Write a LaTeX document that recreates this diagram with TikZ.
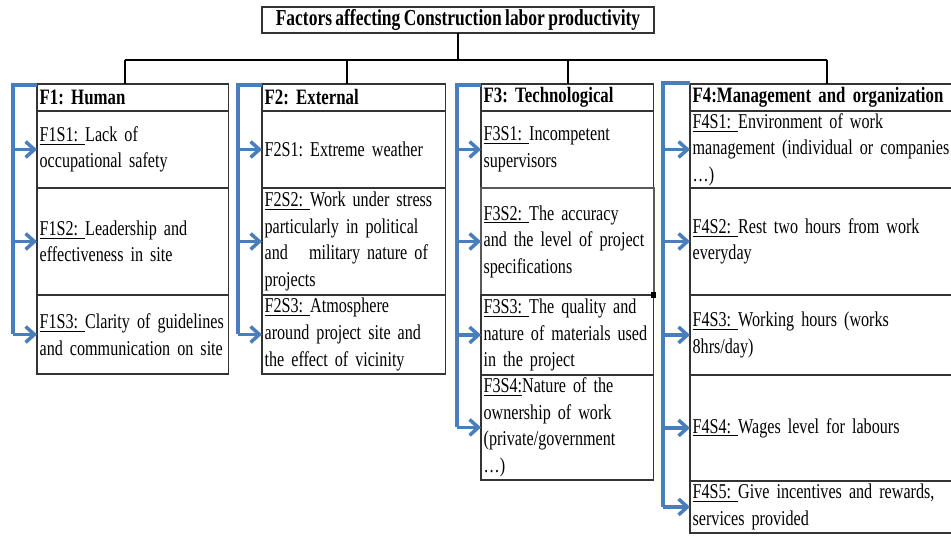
\documentclass[tikz,border=0pt]{standalone}
\usepackage{fontspec}
\newfontfamily\boxfont{Liberation Serif}[FakeStretch=0.765, WordSpace=0.765]
\usetikzlibrary{arrows.meta, positioning}
\definecolor{railblue}{HTML}{4A7EBB}
\definecolor{cellgray}{HTML}{333333}
\newcommand{\subtag}[1]{\underline{#1}}
\newcommand{\cellfont}{\boxfont\frenchspacing\hyphenpenalty10000\relax\fontsize{12}{15.1}\selectfont}

\begin{document}
\begin{tikzpicture}[
    x=0.02cm, y=-0.02cm,
    cell/.style={
        draw=cellgray, line width=0.7pt, rectangle, outer sep=0pt,
        inner xsep=1.5pt, inner ysep=0pt, align=left,
        font=\cellfont, minimum height=#1
    },
    head/.style={
        cell=0.54cm, font=\boxfont\frenchspacing\fontsize{12.5}{15}\selectfont\bfseries
    },
    colA/.style={text width=3.73cm},
    colB/.style={text width=3.57cm},
    colC/.style={text width=3.35cm},
    colD/.style={text width=6.29cm},
    trunk/.style={line width=1.6pt, black},
    rail/.style={line width=2pt, railblue},
    feed/.style={rail, -{Straight Barb[length=5pt, width=9pt]}}
]
\clip (0,0) rectangle (951,535);

% ===== Title =====
\node[cell=0.52cm, minimum width=7.84cm, align=center,
      font=\boxfont\frenchspacing\fontsize{13}{15}\selectfont\bfseries]
    (title) at (458,20) {Factors affecting Construction labor productivity};

% ===== F1: Human =====
\node[head, colA, anchor=north west] (h1) at (37,84) {F1: Human};
\node[cell=1.54cm, colA, below=0pt of h1] (s11) {\subtag{F1S1:\ }Lack of\\occupational safety};
\node[cell=2.14cm, colA, below=0pt of s11] (s12) {\subtag{F1S2:\ }Leadership and\\effectiveness in site};
\node[cell=1.58cm, colA, below=0pt of s12] (s13) {\subtag{F1S3:\ }Clarity of guidelines\\and communication on site};

% ===== F2: External =====
\node[head, colB, anchor=north west] (h2) at (262,84) {F2: External};
\node[cell=1.54cm, colB, below=0pt of h2] (s21) {F2S1: Extreme weather};
\node[cell=2.14cm, colB, below=0pt of s21] (s22) {\subtag{F2S2:\ }Work under stress\\particularly in political\\and\ \ \ military nature of\\projects};
\node[cell=1.58cm, colB, below=0pt of s22] (s23) {\subtag{F2S3:\ }Atmosphere\\around project site and\\the effect of vicinity};

% ===== F3: Technological =====
\node[head, colC, anchor=north west] (h3) at (481,84) {F3: Technological};
\node[cell=1.54cm, colC, below=0pt of h3] (s31) {\subtag{F3S1:\ }Incompetent\\supervisors};
\node[cell=2.14cm, colC, below=0pt of s31, draw=black!65, line width=1.3pt] (s32) {\subtag{F3S2:\ }The accuracy\\and the level of project\\specifications};
\node[cell=1.6cm, colC, below=0pt of s32] (s33) {\subtag{F3S3:\ }The quality and\\nature of materials used\\in the project};
\node[cell=2.1cm, colC, below=0pt of s33] (s34) {\subtag{F3S4:}Nature of the\\ownership of work\\(private/government\\…)};
\fill[black] (s32.south east) ++(-1.5pt,-1.5pt) rectangle ++(3pt,3pt);

% ===== F4: Management and organization =====
\node[head, colD, anchor=north west] (h4) at (690,84) {F4:Management and organization};
\node[cell=1.54cm, colD, below=0pt of h4] (s41) {\subtag{F4S1:\ }Environment of work\\management (individual or companies\\…)};
\node[cell=2.14cm, colD, below=0pt of s41] (s42) {\subtag{F4S2:\ }Rest two hours from work\\everyday};
\node[cell=1.6cm, colD, below=0pt of s42] (s43) {\subtag{F4S3:\ }Working hours (works\\8hrs/day)};
\node[cell=2.12cm, colD, below=0pt of s43] (s44) {\subtag{F4S4:\ }Wages level for labours};
\node[cell=1.04cm, colD, below=0pt of s44] (s45) {\subtag{F4S5:\ }Give incentives and rewards,\\services provided};

% ===== Tree connectors =====
\coordinate (j1) at (125,60);
\coordinate (j2) at (347,60);
\coordinate (j3) at (568,60);
\coordinate (j4) at (827,60);
\draw[trunk] (title.south) -- (title.south |- j1);
\draw[trunk] (j1) -- (j4);
\foreach \c in {1,...,4}
    \draw[trunk] (j\c) -- (j\c |- h\c.north);

% ===== Blue rails with arrows =====
\coordinate (r1) at (13,85);
\coordinate (r2) at (238,85);
\coordinate (r3) at (457,85);
\coordinate (r4) at (663,83);
\foreach \c/\n in {1/3, 2/3, 3/4, 4/5} {
    \draw[rail] (h\c.north west |- r\c) -- (r\c) -- (r\c |- s\c\n.west);
    \foreach \k in {1,...,\n}
        \draw[feed] (r\c |- s\c\k.west) -- (s\c\k.west);
}

\end{tikzpicture}
\end{document}
